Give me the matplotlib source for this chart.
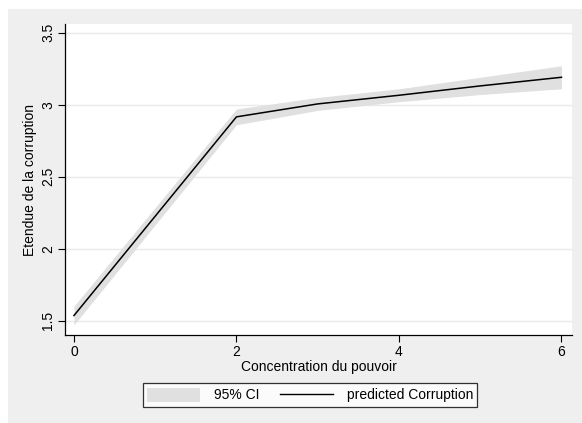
import matplotlib.pyplot as plt
from matplotlib.patches import Rectangle
from matplotlib.lines import Line2D

plt.rcParams['font.family'] = ['Liberation Sans', 'DejaVu Sans']

# values
conc = [0, 2, 3, 4, 5, 6]
predicted = [1.535, 2.915, 3.005, 3.065, 3.13, 3.19]
ci_low = [1.47, 2.86, 2.96, 3.02, 3.07, 3.11]
ci_high = [1.60, 2.97, 3.05, 3.11, 3.19, 3.27]
yticks = [1.5, 2, 2.5, 3, 3.5]
xticks = [0, 2, 4, 6]

W, H = 582, 423
fs = 10
fig = plt.figure(figsize=(W / 100, H / 100), dpi=100, facecolor='white')
# stata-like grey background, page margin left white at top/left
fig.patches.append(Rectangle((8 / W, 0), 1, (H - 9) / H, transform=fig.transFigure,
                             facecolor='#efefef', edgecolor='none', zorder=-1))

ax = fig.add_axes([65 / W, (H - 335) / H, (572 - 65) / W, (335 - 24) / H])
ax.set_facecolor('white')

ax.fill_between(conc, ci_low, ci_high, color='#e0e0e0', lw=0, zorder=1)
ax.plot(conc, predicted, color='black', lw=1.1, zorder=2)

ax.set_xlim(-0.11, 6.13)
ax.set_ylim(1.40, 3.56)
ax.set_xticks(xticks)
ax.set_yticks(yticks)
ax.set_yticklabels(['1.5', '2', '2.5', '3', '3.5'], rotation=90, va='center')
ax.yaxis.grid(True, color='#eaeaea', lw=1)
ax.set_axisbelow(True)
for s in ['top', 'right']:
    ax.spines[s].set_visible(False)
for s in ['left', 'bottom']:
    ax.spines[s].set_linewidth(0.9)
ax.tick_params(labelsize=fs, length=5, width=0.8, pad=2)

ax.set_xlabel('Concentration du pouvoir', fontsize=fs, labelpad=1)
ax.set_ylabel('Etendue de la corruption', fontsize=fs, labelpad=3)

handles = [Rectangle((0, 0), 1, 1, facecolor='#e0e0e0', edgecolor='none'),
           Line2D([], [], color='black', lw=1)]
leg = fig.legend(handles, ['95% CI', 'predicted Corruption'], loc='center',
                 bbox_to_anchor=(310 / W, (H - 395) / H), ncol=2, fontsize=fs,
                 frameon=True, fancybox=False, handlelength=3.8, handleheight=1.2,
                 columnspacing=1.5, borderpad=0.3, handletextpad=1.0,
                 borderaxespad=0)
leg.get_frame().set_edgecolor('black')
leg.get_frame().set_linewidth(0.9)

fig.savefig('out.png', dpi=100, facecolor=fig.get_facecolor())
